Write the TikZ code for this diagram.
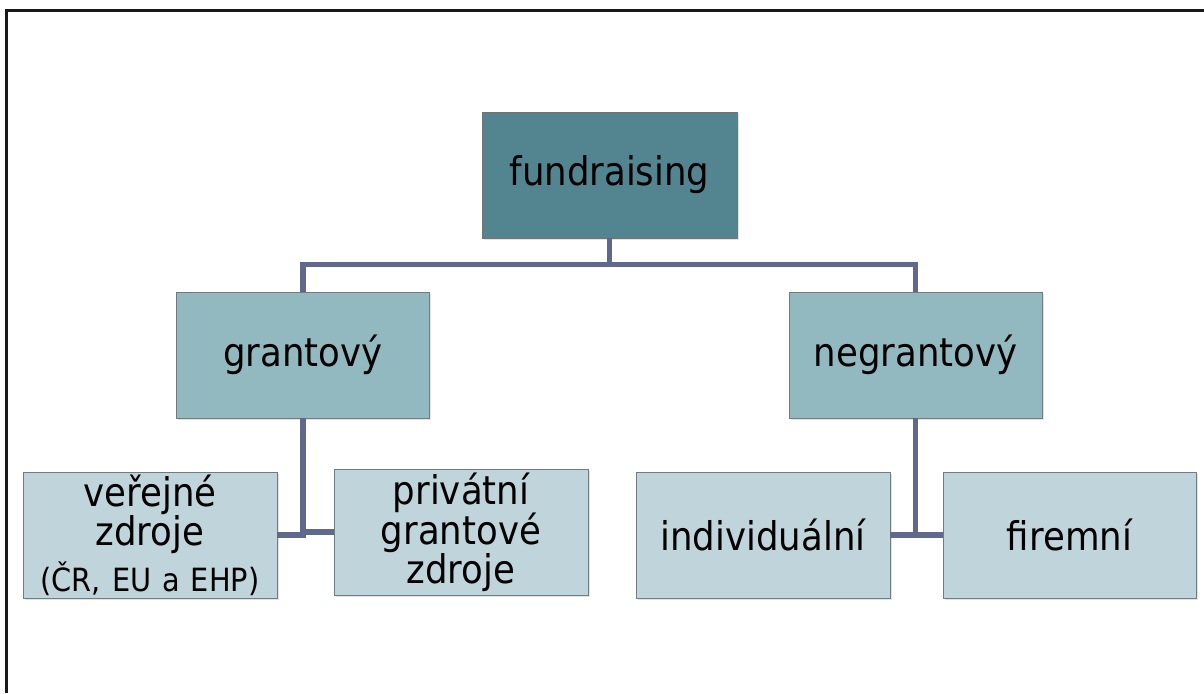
\documentclass[tikz,border=0pt]{standalone}
\usepackage{fontspec}
\setmainfont{DejaVu Sans}[FakeStretch=0.9]
\usetikzlibrary{shadows}
\definecolor{topfill}{RGB}{82,133,144}
\definecolor{midfill}{RGB}{147,185,192}
\definecolor{lowfill}{RGB}{192,213,219}
\definecolor{linkcol}{RGB}{96,104,142}
\definecolor{edgecol}{RGB}{112,124,130}
\begin{document}
\begin{tikzpicture}[x=1pt,y=-1pt,
  box/.style={rectangle, inner sep=0pt, align=center, draw=edgecol, line width=0.9pt,
    drop shadow={shadow xshift=1.5pt, shadow yshift=-2pt, opacity=0.22},
    font=\fontsize{39.5}{38.5}\selectfont, text=black},
  topbox/.style={box, fill=topfill, draw=black!55, minimum width=255pt, minimum height=126pt},
  midbox/.style={box, fill=midfill, minimum width=253pt, minimum height=126pt},
  lowbox/.style={box, fill=lowfill, minimum width=254pt, minimum height=126pt},
  link/.style={draw=linkcol, line width=5.5pt, line join=miter},
  frameline/.style={draw=black!90, line width=3pt}
]
\useasboundingbox (0,0) rectangle (1204,693);
\fill[white] (0,0) rectangle (1204,693);
\coordinate (fbl) at (6.5,693);
\coordinate (ftl) at (6.5,11);
\coordinate (ftr) at (1204,11);
\draw[frameline] (fbl) -- (ftl) -- (ftr);

\node[topbox] (fund) at (609.5,175) {fundraising};
\node[midbox] (gr) at (303,355) {grantový};
\node[midbox] (neg) at (915.5,355) {negrantový};
\node[lowbox, font=\fontsize{39.5}{33}\selectfont] (ver) at (150,535)
  {veřejné\\zdroje\\[7pt]{\fontsize{32}{32}\selectfont\spaceskip=11pt (ČR, EU a EHP)}};
\node[lowbox] (priv) at (461,532) {privátní\\grantové\\zdroje};
\node[lowbox] (ind) at (763,535) {individuální};
\node[lowbox, minimum width=253pt] (fir) at (1069.5,535) {firemní};

\draw[link] (fund.south) -- ++(0,26) -| (gr.north);
\draw[link] (fund.south) -- ++(0,26) -| (neg.north);
\draw[link] (gr.south) |- (ver.east);
\draw[link] (gr.south) |- (priv.west);
\draw[link] (neg.south) |- (ind.east);
\draw[link] (neg.south) |- (fir.west);
\end{tikzpicture}
\end{document}
